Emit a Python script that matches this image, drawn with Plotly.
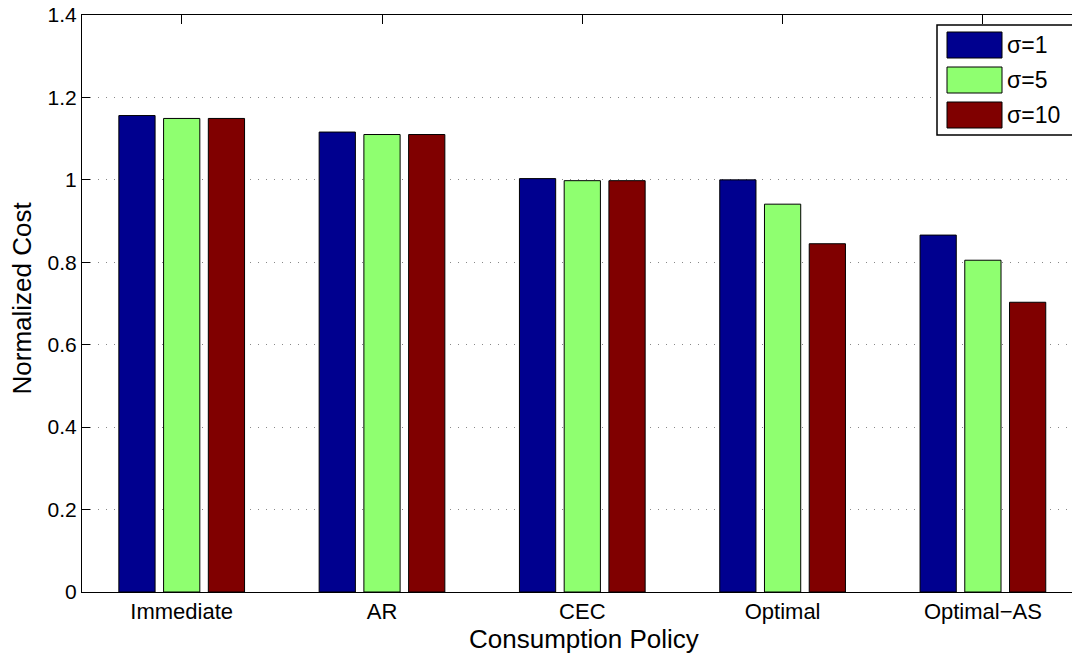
import plotly.graph_objects as go

categories = ["Immediate", "AR", "CEC", "Optimal", "Optimal\u2212AS"]
series_names = ["\u03c3=1", "\u03c3=5", "\u03c3=10"]
sigma1 = [1.156, 1.116, 1.003, 1.000, 0.866]
sigma5 = [1.149, 1.110, 0.998, 0.941, 0.805]
sigma10 = [1.149, 1.110, 0.998, 0.845, 0.703]
y_ticks = [0, 0.2, 0.4, 0.6, 0.8, 1.0, 1.2, 1.4]
y_tick_labels = ["0", "0.2", "0.4", "0.6", "0.8", "1", "1.2", "1.4"]
x_title = "Consumption Policy"
y_title = "Normalized Cost"

colors = ["#00008F", "#8FFF70", "#800000"]
values = [sigma1, sigma5, sigma10]
xpos = list(range(1, len(categories) + 1))

fig = go.Figure()
for name, vals, col in zip(series_names, values, colors):
    fig.add_trace(go.Bar(
        x=xpos, y=vals, name=name,
        marker=dict(color=col, line=dict(color="black", width=1)),
        showlegend=False,
    ))

# plot area in px: left 82, right 1072, top 15, bottom 592
L, R, T, B = 82, 1072, 15, 592
def px(xp):
    return (xp - L) / (R - L)
def py(yp):
    return (B - yp) / (B - T)

unit = 200.3
x0 = 1 - (181.7 - L) / unit

shapes = []
annotations = []
# legend box
shapes.append(dict(type="rect", xref="paper", yref="paper",
                   x0=px(937), x1=px(1090), y0=py(135), y1=py(25),
                   line=dict(color="black", width=1.5), fillcolor="white", layer="above"))
sw_centers = [45, 80, 115]
for name, col, cy in zip(series_names, colors, sw_centers):
    shapes.append(dict(type="rect", xref="paper", yref="paper",
                       x0=px(947), x1=px(1002), y0=py(cy + 13), y1=py(cy - 13),
                       line=dict(color="black", width=1), fillcolor=col, layer="above"))
    annotations.append(dict(xref="paper", yref="paper", x=px(1005), y=py(cy),
                            text=name, showarrow=False, xanchor="left", yanchor="middle",
                            font=dict(size=23, color="black", family="Liberation Sans")))

# axis titles
annotations.append(dict(xref="paper", yref="paper", x=px(583.5), y=py(639),
                        text=x_title, showarrow=False, xanchor="center", yanchor="middle",
                        font=dict(size=26, color="black", family="Liberation Sans")))
annotations.append(dict(xref="paper", yref="paper", x=px(21), y=py(298.5),
                        text=y_title, showarrow=False, xanchor="center", yanchor="middle",
                        textangle=-90,
                        font=dict(size=26, color="black", family="Liberation Sans")))

fig.update_layout(
    width=1072, height=654,
    margin=dict(l=L, r=1072 - R, t=T, b=654 - B, pad=0),
    paper_bgcolor="white", plot_bgcolor="white",
    barmode="group", bargap=0.33, bargroupgap=0.19,
    font=dict(family="Liberation Sans", size=22, color="black"),
    shapes=shapes, annotations=annotations,
    showlegend=False,
)
fig.update_xaxes(
    automargin=False,
    range=[x0, x0 + (R - L) / unit],
    tickmode="array", tickvals=xpos, ticktext=categories,
    ticks="inside", ticklen=9, tickcolor="black",
    showline=True, linecolor="black", linewidth=1, mirror="ticks",
    showgrid=False, zeroline=False, layer="below traces",
    tickfont=dict(size=22),
)
fig.update_yaxes(
    automargin=False,
    range=[0, 1.4],
    tickmode="array", tickvals=y_ticks, ticktext=y_tick_labels,
    ticks="inside", ticklen=8, tickcolor="black",
    showline=True, linecolor="black", linewidth=1, mirror=False,
    showgrid=True, gridcolor="#888888", griddash="1px,7px", gridwidth=1,
    zeroline=False, layer="below traces",
    tickfont=dict(size=21),
)

fig.write_html("out.html", config={"displayModeBar": False},
               post_script="document.body.style.margin='0';document.body.style.overflow='hidden';")
